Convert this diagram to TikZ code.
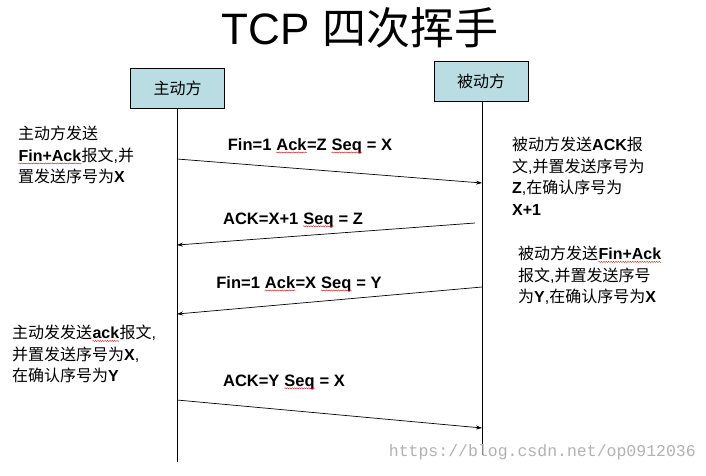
\documentclass[tikz,border=0pt]{standalone}
\usepackage{fontspec}
\setmainfont{Liberation Sans}
\setmonofont{Liberation Mono}
\newfontfamily\cjk{Noto Sans CJK SC}
\usetikzlibrary{arrows.meta,decorations.pathmorphing}
\definecolor{boxfill}{HTML}{B9DDE2}
\newcommand{\sqw}[1]{\tikz[baseline=(sqwt.base)]{\node[inner sep=0pt](sqwt){#1};\draw[red!80!black,line width=0.35pt,decorate,decoration={snake,amplitude=0.55pt,segment length=2.4pt}]([yshift=-2.2pt]sqwt.base west)--([yshift=-2.2pt]sqwt.base east);}}
\begin{document}
\begin{tikzpicture}[x=1pt,y=-1pt,
  actor/.style={draw=black,fill=boxfill,line width=0.6pt,minimum width=94pt,minimum height=40pt,inner sep=0pt,font=\fontsize{16}{18}\selectfont\cjk},
  life/.style={line width=0.8pt},
  msg/.style={line width=0.7pt,-{Stealth[length=6pt,width=4pt]}},
  lbl/.style={font=\fontsize{16.5}{20}\selectfont\bfseries,inner sep=0pt},
  note/.style={anchor=north west,align=left,inner sep=0pt,font=\fontsize{16}{21.5}\selectfont}
]
\useasboundingbox (0,0) rectangle (706,475);
\fill[white] (0,0) rectangle (706,475);
% title
\node[inner sep=0pt,font=\fontsize{44}{48}\selectfont] (title) at (360,28) {TCP {\cjk 四次挥手}};
% actors
\node[actor] (A) at (177.5,88) {主动方};
\node[actor] (B) at (481,81) {被动方};
\coordinate (Aend) at (177,462);
\coordinate (Bend) at (482,455);
\draw[life] (A.south -| Aend) -- (Aend);
\draw[life] (B.south -| Bend) -- (Bend);
% message points
\coordinate (m1s) at (177,159); \coordinate (m1e) at (482,183);
\coordinate (m2s) at (475,223); \coordinate (m2e) at (177,245);
\coordinate (m3s) at (482,287); \coordinate (m3e) at (177,314);
\coordinate (m4s) at (177,400); \coordinate (m4e) at (482,428);
\draw[msg] (m1s) -- (m1e);
\draw[msg] (m2s) -- (m2e);
\draw[msg] (m3s) -- (m3e);
\draw[msg] (m4s) -- (m4e);
% labels
\node[lbl] (l1) at (310,146) {Fin=1 \sqw{Ack}=Z \sqw{Seq} = X};
\node[lbl] (l2) at (293,220) {ACK=X+1 \sqw{Seq} = Z};
\node[lbl] (l3) at (299,284) {Fin=1 \sqw{Ack}=X \sqw{Seq} = Y};
\node[lbl] (l4) at (284,382) {ACK=Y \sqw{Seq} = X};
% notes
\node[note] (n1) at (18,126) {{\cjk 主动方发送}\\\textbf{\sqw{Fin+Ack}}{\cjk 报文},{\cjk 并}\\{\cjk 置发送序号为}\textbf{X}};
\node[note] (n2) at (512,137) {{\cjk 被动方发送}\textbf{ACK}{\cjk 报}\\{\cjk 文},{\cjk 并置发送序号为}\\\textbf{Z},{\cjk 在确认序号为}\\\textbf{X+1}};
\node[note] (n3) at (518,246) {{\cjk 被动方发送}\textbf{\sqw{Fin+Ack}}\\{\cjk 报文},{\cjk 并置发送序号}\\{\cjk 为}\textbf{Y},{\cjk 在确认序号为}\textbf{X}};
\node[note] (n4) at (12,325) {{\cjk 主动发发送}\textbf{\sqw{ack}}{\cjk 报文},\\{\cjk 并置发送序号为}\textbf{X},\\{\cjk 在确认序号为}\textbf{Y}};
% watermark
\node[inner sep=0pt,anchor=east,font=\fontsize{16.5}{18}\selectfont\ttfamily,text=black!30] (wm) at (696,452) {https://blog.csdn.net/op0912036};
\end{tikzpicture}
\end{document}
